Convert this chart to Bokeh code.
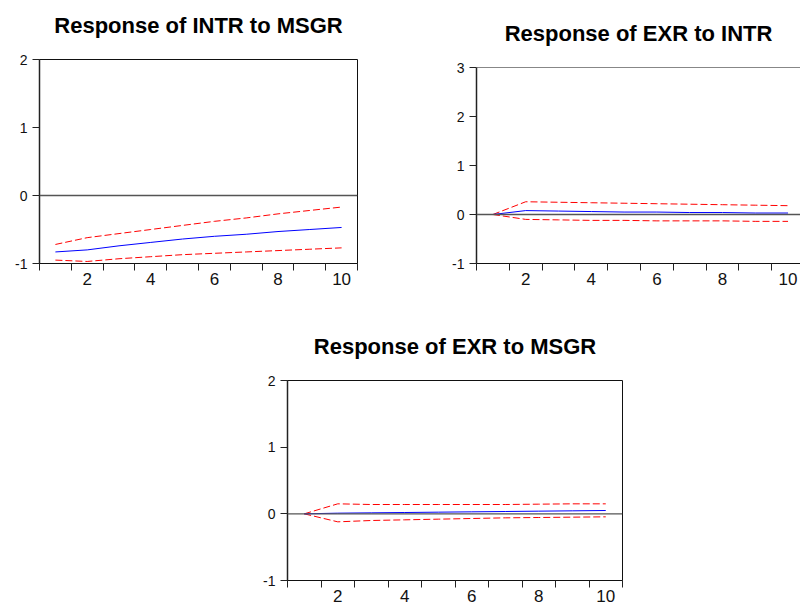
from bokeh.plotting import figure
from bokeh.models import FixedTicker, Range1d, Span
from bokeh.embed import file_html
from bokeh.resources import INLINE

periods = [1, 2, 3, 4, 5, 6, 7, 8, 9, 10]

# Response of INTR to MSGR
intr_msgr = [-0.83, -0.80, -0.74, -0.69, -0.64, -0.60, -0.57, -0.53, -0.50, -0.47]
intr_msgr_hi = [-0.72, -0.62, -0.56, -0.50, -0.44, -0.38, -0.33, -0.27, -0.22, -0.17]
intr_msgr_lo = [-0.95, -0.97, -0.93, -0.90, -0.87, -0.85, -0.83, -0.81, -0.79, -0.77]

# Response of EXR to INTR
exr_intr = [0.0, 0.08, 0.07, 0.06, 0.05, 0.05, 0.04, 0.04, 0.03, 0.03]
exr_intr_hi = [0.0, 0.26, 0.25, 0.24, 0.23, 0.22, 0.21, 0.20, 0.19, 0.18]
exr_intr_lo = [0.0, -0.10, -0.11, -0.12, -0.12, -0.13, -0.13, -0.13, -0.14, -0.14]

# Response of EXR to MSGR
exr_msgr = [0.0, 0.01, 0.015, 0.02, 0.025, 0.03, 0.035, 0.04, 0.045, 0.05]
exr_msgr_hi = [0.0, 0.15, 0.14, 0.14, 0.14, 0.14, 0.14, 0.145, 0.15, 0.15]
exr_msgr_lo = [0.0, -0.12, -0.10, -0.09, -0.08, -0.07, -0.06, -0.055, -0.05, -0.045]

x_tick_labels = [2, 4, 6, 8, 10]
x_tick_marks = [0.5, 1.5, 2.5, 3.5, 4.5, 5.5, 6.5, 7.5, 8.5, 9.5, 10.5]
y_ticks_a = [-1, 0, 1, 2]
y_ticks_b = [-1, 0, 1, 2, 3]

FONT = "Liberation Sans"
INK = "#111111"


def make_panel(title, resp, hi, lo, yticks, y_start, y_end, x_end,
               w, h, mbl, mbr, mbt, mbb, left, top, outline=True):
    p = figure(width=w, height=h, x_range=Range1d(0.5, x_end),
               y_range=Range1d(y_start, y_end), output_backend="svg",
               toolbar_location=None, min_border_left=mbl,
               min_border_right=mbr, min_border_top=mbt,
               min_border_bottom=mbb, x_axis_location="below",
               styles={"position": "absolute", "left": f"{left}px",
                       "top": f"{top}px"})
    p.background_fill_color = "white"
    p.border_fill_color = None
    p.xgrid.visible = False
    p.ygrid.visible = False
    if outline:
        p.outline_line_color = INK
        p.outline_line_width = 1
    else:
        p.outline_line_color = None
        p.add_layout(Span(location=y_end, dimension="width",
                          line_color=INK, line_width=1))

    p.title.text = title
    p.title.text_font = FONT
    p.title.text_font_style = "bold"
    p.title.text_font_size = "22px"
    p.title.text_color = "#000000"
    p.title.align = "center"
    p.title.standoff = 44

    xa = p.below[0]
    ya = p.left[0]

    xa.ticker = FixedTicker(ticks=x_tick_labels, minor_ticks=x_tick_marks)
    xa.major_tick_line_color = None
    xa.major_tick_out = 7
    xa.major_tick_in = 0
    xa.minor_tick_out = 7
    xa.minor_tick_in = 0
    xa.minor_tick_line_color = "#222222"
    xa.axis_line_color = INK
    xa.major_label_text_font = FONT
    xa.major_label_text_font_size = "17px"
    xa.major_label_text_color = INK
    xa.major_label_standoff = 2

    ya.ticker = FixedTicker(ticks=yticks)
    ya.major_label_overrides = {t: str(t) for t in yticks}
    ya.major_tick_out = 7
    ya.major_tick_in = 0
    ya.major_tick_line_color = "#222222"
    ya.minor_tick_line_color = None
    ya.axis_line_color = "#222222"
    ya.axis_line_width = 1.5
    ya.major_label_text_font = FONT
    ya.major_label_text_font_size = "14px"
    ya.major_label_text_color = INK
    ya.major_label_standoff = 5

    p.add_layout(Span(location=0, dimension="width",
                      line_color="#555555", line_width=1.4))

    p.line(periods, hi, line_color="#FF0000", line_width=1, line_dash="7 3")
    p.line(periods, lo, line_color="#FF0000", line_width=1, line_dash="7 3")
    p.line(periods, resp, line_color="#0000FF", line_width=1)
    return p


p1 = make_panel("Response of INTR to MSGR", intr_msgr, intr_msgr_hi,
                intr_msgr_lo, y_ticks_a, -1, 2, 10.5,
                420, 314, 39, 63, 75, 35, left=0, top=-16)
p2 = make_panel("Response of EXR to INTR", exr_intr, exr_intr_hi,
                exr_intr_lo, y_ticks_b, -1, 3, 10.38,
                380, 306, 56, 0, 75, 35, left=420, top=-8, outline=False)
p3 = make_panel("Response of EXR to MSGR", exr_msgr, exr_msgr_hi,
                exr_msgr_lo, y_ticks_a, -1, 2, 10.5,
                402, 310, 47, 20, 82, 28, left=240, top=298)

open("out.html", "w").write(file_html([p1, p2, p3], INLINE))
